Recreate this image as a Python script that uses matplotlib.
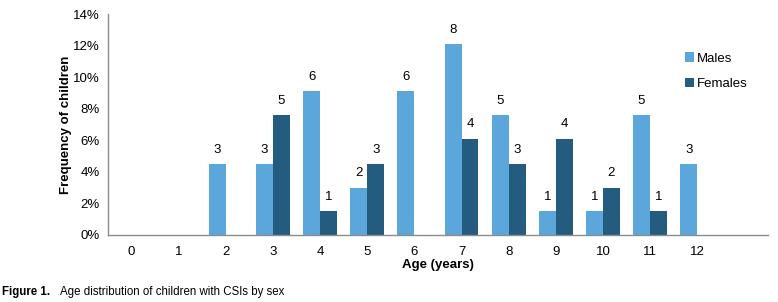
import numpy as np
import matplotlib.pyplot as plt

plt.rcParams['font.family'] = ['Liberation Sans', 'DejaVu Sans']

ages = ["0", "1", "2", "3", "4", "5", "6", "7", "8", "9", "10", "11", "12"]
# frequency (% of all children)
males_pct = [0, 0, 4.5, 4.5, 9.1, 3.0, 9.1, 12.1, 7.6, 1.5, 1.5, 7.6, 4.5]
females_pct = [0, 0, 0, 7.6, 1.5, 4.5, 0, 6.1, 4.5, 6.1, 3.0, 1.5, 0]
# counts printed above the bars
males_n = [None, None, 3, 3, 6, 2, 6, 8, 5, 1, 1, 5, 3]
females_n = [None, None, None, 5, 1, 3, None, 4, 3, 4, 2, 1, None]

male_col = "#5ba7dc"
female_col = "#235c7e"

fig = plt.figure(figsize=(7.78, 3.02), dpi=100)
ax = fig.add_axes([0.1388, 0.2219, 0.8482, 0.7317])

x = np.arange(len(ages))
w = 0.36
ax.bar(x - w / 2, males_pct, w, color=male_col, label="Males")
ax.bar(x + w / 2, females_pct, w, color=female_col, label="Females")

for xi, v, n in zip(x, males_pct, males_n):
    if n is not None:
        ax.annotate(str(n), (xi - w / 2, v), xytext=(0, 6), textcoords="offset points",
                    ha="center", va="bottom", fontsize=9.5)
for xi, v, n in zip(x, females_pct, females_n):
    if n is not None:
        ax.annotate(str(n), (xi + w / 2, v), xytext=(0, 6), textcoords="offset points",
                    ha="center", va="bottom", fontsize=9.5)

ax.set_xlim(-0.5, 13.5)
ax.set_ylim(0, 14)
ax.set_xticks(x)
ax.set_xticklabels(ages, fontsize=9.5)
ax.set_yticks(np.arange(0, 15, 2))
ax.set_yticklabels([f"{t}%" for t in range(0, 15, 2)], fontsize=9.5)
ax.tick_params(axis="both", length=0, pad=8)
ax.tick_params(axis="y", pad=6)

for s in ["top", "right"]:
    ax.spines[s].set_visible(False)
for s in ["left", "bottom"]:
    ax.spines[s].set_color("#8c8c8c")
    ax.spines[s].set_linewidth(1)

ax.set_xlabel("Age (years)", fontsize=9.5, fontweight="bold", labelpad=1)
ax.set_ylabel("Frequency of children", fontsize=9.5, fontweight="bold", labelpad=1)

ax.legend(loc="upper left", bbox_to_anchor=(0.856, 0.88), frameon=False, fontsize=9.5,
          handlelength=0.7, handleheight=0.7, handletextpad=0.2, labelspacing=1.0)

fig.text(0.003, 0.022, "Figure 1.", fontsize=8.3, fontweight="bold")
fig.text(0.077, 0.022, "Age distribution of children with CSIs by sex", fontsize=8.3)

fig.savefig("out.png", dpi=100)
